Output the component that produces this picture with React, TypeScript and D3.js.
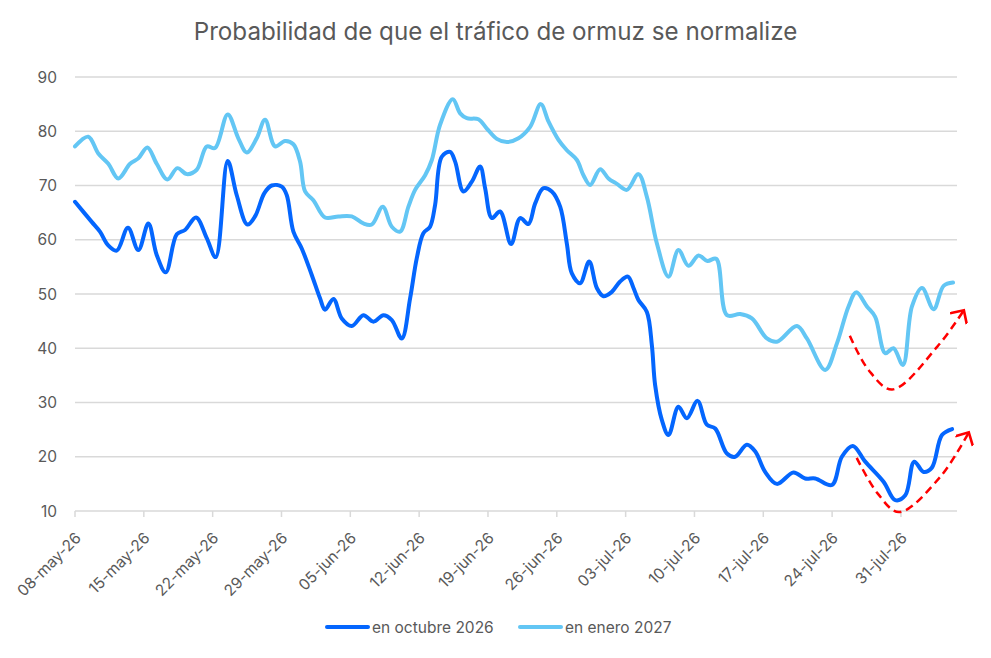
import React from "react";
import * as d3 from "d3";

// ---- data (day offsets from 08-may-2026, values in %) ----
const startDate = new Date(2026, 4, 8);
const octDays = [0, 1.7, 2.54, 3.36, 4.24, 5.39, 6.44, 7.46, 8.31, 9.23, 10.35, 11.19, 12.31, 13.4, 14.31, 15.53, 16.45, 17.53, 18.31, 19.26, 20.01, 21.03, 21.54, 22.21, 23.06, 24.08, 24.92, 25.43, 26.28, 27.13, 28.15, 29.33, 30.35, 31.36, 32.22, 33.23, 34.08, 34.76, 35.43, 36.11, 36.62, 37.3, 38.15, 38.66, 39.5, 40.36, 41.2, 41.71, 42.39, 43.23, 44.35, 45.27, 46.11, 46.8, 47.64, 48.49, 49.34, 50.02, 50.53, 51.37, 52.29, 53.07, 53.74, 54.6, 55.44, 56.23, 56.8, 57.3, 58.16, 58.67, 59.0, 59.68, 60.36, 61.37, 62.23, 63.31, 64.26, 65.11, 66.3, 67.14, 68.33, 69.17, 70.19, 71.38, 73.07, 74.26, 75.28, 76.98, 77.99, 79.11, 80.37, 82.23, 83.42, 84.44, 85.35, 86.3, 87.15, 88.17, 89.2];
const octValues = [67.0, 63.3, 61.5, 59.0, 58.0, 62.2, 58.1, 63.0, 57.2, 54.0, 61.0, 61.8, 64.1, 60.3, 56.8, 74.5, 68.2, 62.8, 64.3, 68.6, 70.0, 69.8, 68.2, 61.5, 58.4, 53.5, 49.2, 47.1, 49.1, 45.5, 44.1, 46.1, 44.9, 46.1, 45.2, 41.8, 49.2, 56.6, 61.2, 62.4, 66.4, 75.3, 76.2, 74.4, 68.9, 70.7, 73.5, 69.5, 64.0, 65.2, 59.2, 64.0, 62.9, 66.7, 69.5, 68.9, 66.1, 59.3, 53.8, 52.0, 56.0, 51.1, 49.6, 50.4, 52.3, 53.2, 51.1, 48.9, 46.7, 40.5, 33.2, 26.8, 24.0, 29.2, 27.1, 30.3, 25.9, 25.2, 20.6, 20.0, 22.2, 21.0, 17.2, 15.0, 17.1, 16.0, 16.0, 14.8, 20.0, 22.0, 19.1, 15.4, 12.0, 12.9, 19.1, 17.2, 18.0, 24.0, 25.1];

const eneDays = [0, 1.35, 2.37, 3.39, 4.4, 5.6, 6.44, 7.36, 8.31, 9.39, 10.41, 11.36, 12.38, 13.4, 14.24, 15.53, 16.61, 17.47, 18.48, 19.33, 20.35, 21.36, 22.21, 22.89, 23.4, 24.24, 25.43, 26.79, 28.15, 29.33, 30.18, 31.3, 32.22, 33.06, 33.91, 34.59, 35.61, 36.29, 37.13, 38.42, 39.17, 39.85, 41.03, 41.88, 42.9, 43.92, 45.1, 46.29, 47.37, 48.15, 49.17, 50.02, 51.04, 51.71, 52.39, 53.41, 54.25, 55.11, 56.12, 57.3, 58.16, 59.18, 60.36, 61.37, 62.39, 63.41, 64.32, 65.21, 66.3, 67.65, 68.84, 70.37, 71.38, 73.42, 74.43, 76.3, 77.49, 78.67, 79.45, 80.54, 81.38, 82.4, 83.24, 84.2, 85.12, 86.14, 87.32, 88.34, 89.3];
const eneValues = [77.2, 79.0, 75.9, 74.0, 71.3, 74.0, 75.0, 77.0, 74.0, 71.1, 73.2, 72.1, 72.9, 77.2, 76.9, 83.1, 78.7, 76.1, 78.7, 82.1, 77.2, 78.2, 77.6, 74.4, 68.9, 67.3, 64.1, 64.3, 64.3, 63.0, 62.8, 66.1, 62.4, 61.5, 66.1, 69.2, 71.9, 74.7, 81.2, 85.9, 83.3, 82.4, 82.2, 80.5, 78.6, 78.0, 78.7, 80.8, 85.0, 81.8, 78.4, 76.5, 74.7, 71.9, 70.1, 73.0, 71.3, 70.3, 69.2, 72.1, 67.9, 59.3, 53.2, 58.1, 55.2, 57.1, 56.1, 56.5, 46.1, 46.3, 45.5, 41.8, 41.2, 44.1, 41.8, 36.0, 40.9, 47.7, 50.3, 47.7, 45.8, 39.1, 40.0, 36.9, 47.7, 51.1, 47.2, 51.5, 52.1];

// red dashed annotation arrows (day offset, value)
const arrowUpperDays = [78.8, 80.7, 83.1, 87.7, 90.4];
const arrowUpperValues = [42.3, 36.0, 32.4, 40.3, 47.0];
const arrowLowerDays = [79.5, 81.6, 83.8, 88.0, 90.9];
const arrowLowerValues = [19.8, 13.3, 9.8, 16.3, 24.5];

const yTicks = [10, 20, 30, 40, 50, 60, 70, 80, 90];
const tickEveryDays = 7;
const tickCount = 13;
const monthsEs = ["ene", "feb", "mar", "abr", "may", "jun", "jul", "ago", "sep", "oct", "nov", "dic"];
const seriesNames = ["en octubre 2026", "en enero 2027"];
const title = "Probabilidad de que el tráfico de ormuz se normalize";

const W = 991;
const H = 658;
const FONT = "Inter, 'Liberation Sans', sans-serif";
const TEXT = "#595959";
const DARK = "#0466FE";
const LIGHT = "#63C6F4";

const toDate = (d: number) => new Date(startDate.getTime() + d * 86400000);
const fmt = (dt: Date) =>
  `${String(dt.getDate()).padStart(2, "0")}-${monthsEs[dt.getMonth()]}-${String(dt.getFullYear() % 100).padStart(2, "0")}`;

export default function App() {
  const x = d3
    .scaleTime()
    .domain([startDate, toDate(89.7)])
    .range([75, 957]);
  const y = d3.scaleLinear().domain([10, 90]).range([511, 77]);

  const line = d3
    .line<[number, number]>()
    .x((p) => x(toDate(p[0])))
    .y((p) => y(p[1]))
    .curve(d3.curveCatmullRom.alpha(0.5));

  const octPts: [number, number][] = octDays.map((d, i) => [d, octValues[i]]);
  const enePts: [number, number][] = eneDays.map((d, i) => [d, eneValues[i]]);
  const upPts: [number, number][] = arrowUpperDays.map((d, i) => [d, arrowUpperValues[i]]);
  const loPts: [number, number][] = arrowLowerDays.map((d, i) => [d, arrowLowerValues[i]]);

  const xTicks = d3.range(tickCount).map((i) => toDate(i * tickEveryDays));

  return (
    <svg
      width={W}
      height={H}
      style={{ position: "fixed", left: 0, top: 0, background: "#fff" }}
      fontFamily={FONT}
    >
      <defs>
        <marker
          id="arr"
          viewBox="0 0 10 10"
          refX="7.5"
          refY="5"
          markerWidth="8"
          markerHeight="8"
          orient="auto"
          markerUnits="strokeWidth"
        >
          <path d="M2.5,0 L7.5,5 L2.5,10" fill="none" stroke="#FF0000" strokeWidth="1.3" strokeLinecap="butt" strokeLinejoin="miter" />
        </marker>
      </defs>
      <rect width={W} height={H} fill="#fff" />
      <text x={W / 2} y={40} textAnchor="middle" fontSize={24.2} fill={TEXT}>
        {title}
      </text>

      {yTicks.map((t) => (
        <g key={t}>
          <line x1={75} x2={957} y1={y(t)} y2={y(t)} stroke="#D9D9D9" strokeWidth={1.5} />
          <text x={57} y={y(t)} dy="0.36em" textAnchor="end" fontSize={15.5} fill={TEXT}>
            {t}
          </text>
        </g>
      ))}

      {xTicks.map((t, i) => (
        <g key={i}>
          <line x1={x(t)} x2={x(t)} y1={511} y2={517} stroke="#D9D9D9" strokeWidth={1.5} />
          <text
            transform={`translate(${x(t) + 7},${539}) rotate(-45)`}
            textAnchor="end"
            fontSize={15.5}
            fill={TEXT}
          >
            {fmt(t)}
          </text>
        </g>
      ))}

      <path d={line(enePts) || ""} fill="none" stroke={LIGHT} strokeWidth={4} strokeLinecap="round" strokeLinejoin="round" />
      <path d={line(octPts) || ""} fill="none" stroke={DARK} strokeWidth={4} strokeLinecap="round" strokeLinejoin="round" />

      <path d={line(upPts) || ""} fill="none" stroke="#FF0000" strokeWidth={2.5} strokeDasharray="8 5" markerEnd="url(#arr)" />
      <path d={line(loPts) || ""} fill="none" stroke="#FF0000" strokeWidth={2.5} strokeDasharray="8 5" markerEnd="url(#arr)" />

      {/* legend */}
      <g>
        <line x1={327} x2={368} y1={627} y2={627} stroke={DARK} strokeWidth={4} strokeLinecap="round" />
        <text x={372} y={627} dy="0.36em" fontSize={15.5} fill={TEXT}>
          {seriesNames[0]}
        </text>
        <line x1={520} x2={561} y1={627} y2={627} stroke={LIGHT} strokeWidth={4} strokeLinecap="round" />
        <text x={565} y={627} dy="0.36em" fontSize={15.5} fill={TEXT}>
          {seriesNames[1]}
        </text>
      </g>
    </svg>
  );
}
